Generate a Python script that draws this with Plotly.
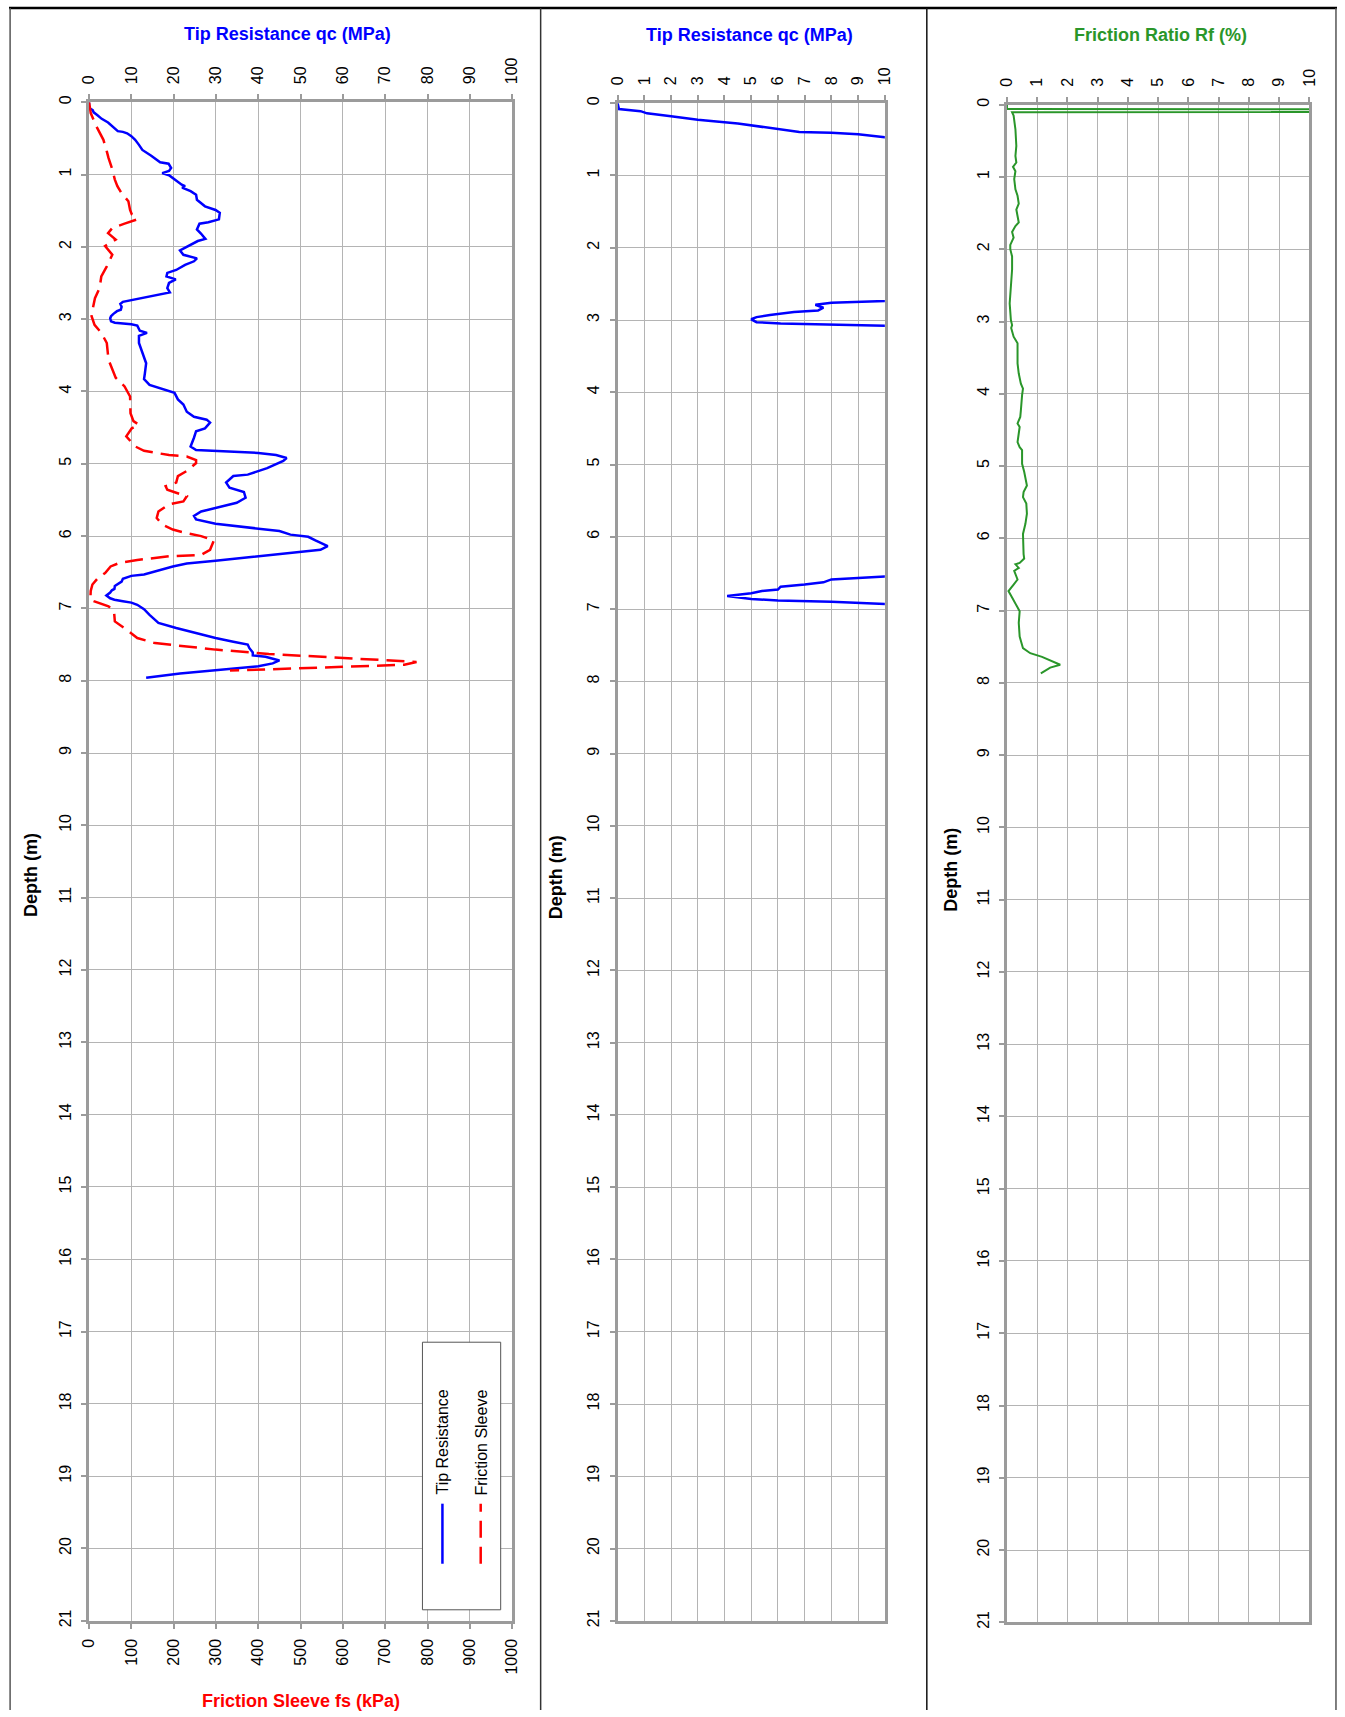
import plotly.graph_objects as go

# ---------------- data ----------------
depth_qc = [0.00, 0.08, 0.11, 0.14, 0.18, 0.23, 0.28, 0.31, 0.35, 0.38, 0.40, 0.41, 0.43, 0.47,
            0.52, 0.59, 0.66, 0.74, 0.79, 0.83, 0.85, 0.91, 0.95, 0.98, 1.01, 1.07, 1.14, 1.16,
            1.18, 1.23, 1.28, 1.35, 1.44, 1.49, 1.53, 1.62, 1.66, 1.68, 1.76, 1.82, 1.89, 1.92,
            1.97, 2.05, 2.11, 2.16, 2.20, 2.25, 2.32, 2.36, 2.41, 2.45, 2.50, 2.57, 2.63, 2.68,
            2.73, 2.76, 2.79, 2.83, 2.87, 2.89, 2.93, 2.96, 2.99, 3.03, 3.05, 3.06, 3.07, 3.09,
            3.16, 3.19, 3.23, 3.33, 3.45, 3.61, 3.75, 3.83, 3.91, 3.95, 4.00, 4.02, 4.11, 4.18,
            4.28, 4.35, 4.39, 4.43, 4.51, 4.55, 4.64, 4.76, 4.81, 4.83, 4.85, 4.88, 4.92, 4.96,
            5.06, 5.15, 5.17, 5.26, 5.33, 5.39, 5.47, 5.54, 5.59, 5.66, 5.72, 5.77, 5.83, 5.89,
            5.93, 5.98, 6.01, 6.06, 6.14, 6.19, 6.22, 6.26, 6.29, 6.34, 6.38, 6.42, 6.49, 6.53,
            6.55, 6.59, 6.63, 6.66, 6.69, 6.73, 6.75, 6.78, 6.82, 6.86, 6.88, 6.90, 6.92, 6.95,
            7.01, 7.09, 7.20, 7.27, 7.34, 7.41, 7.46, 7.50, 7.55, 7.61, 7.65, 7.67, 7.72, 7.76,
            7.80, 7.85, 7.90, 7.96]
qc_mpa = [0.0, 0.05, 0.86, 1.1, 2.0, 3.0, 4.5, 5.1, 5.8, 6.3, 6.8, 8.0, 9.0, 10.0,
          10.9, 11.8, 12.6, 14.7, 16.0, 16.8, 18.8, 19.4, 18.9, 17.3, 18.9, 20.2, 21.9, 22.7,
          22.0, 24.0, 25.3, 25.5, 27.4, 29.9, 30.9, 30.7, 28.2, 26.1, 25.5, 26.5, 27.5, 25.7,
          24.0, 21.5, 22.3, 25.5, 24.8, 22.7, 20.6, 18.5, 18.3, 20.5, 18.9, 18.5, 19.1, 14.7,
          10.0, 8.0, 7.4, 7.7, 7.5, 6.6, 5.7, 5.2, 5.0, 5.2, 6.1, 8.0, 10.0, 11.4,
          12.0, 13.7, 11.8, 11.8, 12.6, 13.5, 13.2, 13.0, 14.3, 16.4, 18.9, 20.2, 21.0, 22.3,
          23.1, 24.8, 27.8, 28.6, 27.4, 25.3, 24.8, 24.0, 25.3, 34.1, 40.0, 44.2, 46.7, 45.9,
          42.1, 37.5, 34.1, 32.4, 33.2, 36.6, 37.0, 34.9, 31.6, 26.5, 24.8, 25.3, 29.9, 39.1,
          45.0, 47.6, 51.8, 53.5, 56.4, 54.7, 50.1, 43.4, 38.3, 29.9, 23.1, 19.8, 15.6, 13.0,
          10.0, 8.0, 7.7, 7.0, 6.1, 6.0, 5.4, 5.0, 4.1, 5.0, 6.0, 8.0, 10.0, 11.4,
          13.0, 14.3, 16.4, 20.6, 25.3, 29.9, 34.1, 37.5, 37.9, 38.7, 38.7, 41.7, 45.0, 43.4,
          40.0, 29.9, 21.5, 13.5]

depth_fs = [0.00, 0.15, 0.33, 0.52, 0.68, 0.77, 0.93, 1.07, 1.16, 1.25, 1.37, 1.49, 1.55, 1.62,
            1.68, 1.74, 1.81, 1.90, 1.99, 2.11, 2.27, 2.41, 2.57, 2.71, 2.85, 2.96, 3.08, 3.19,
            3.33, 3.56, 3.81, 3.93, 4.07, 4.30, 4.41, 4.46, 4.51, 4.62, 4.76, 4.82, 4.88, 4.90,
            4.95, 4.99, 5.10, 5.17, 5.26, 5.31, 5.36, 5.45, 5.52, 5.56, 5.66, 5.75, 5.84, 5.91,
            5.96, 6.00, 6.06, 6.19, 6.26, 6.28, 6.33, 6.37, 6.42, 6.51, 6.58, 6.67, 6.76, 6.88,
            6.90, 6.97, 7.04, 7.18, 7.29, 7.41, 7.48, 7.51, 7.57, 7.63, 7.67, 7.71, 7.74, 7.78,
            7.81, 7.84, 7.86]
fs_kpa = [0, 4, 17, 34, 42, 46, 55, 61, 67, 76, 93, 97, 101, 114,
          84, 55, 45, 63, 38, 55, 42, 29, 25, 14, 9, 6, 13, 29,
          42, 46, 63, 84, 97, 98, 105, 118, 101, 88, 109, 130, 189, 231,
          253, 253, 231, 210, 206, 181, 185, 231, 223, 189, 164, 160, 173, 198,
          231, 265, 295, 286, 265, 189, 114, 72, 51, 38, 21, 8, 4, 3,
          11, 46, 59, 61, 88, 114, 156, 206, 299, 425, 551, 678, 774, 745,
          593, 467, 333]

depth_rf = [0.00, 0.06, 0.07, 0.08, 0.09, 0.106, 0.15, 0.34, 0.57, 0.71, 0.80, 0.86, 0.92, 1.03,
            1.17, 1.26, 1.37, 1.45, 1.54, 1.63, 1.68, 1.76, 1.84, 1.94, 2.00, 2.10, 2.28, 2.51,
            2.75, 2.98, 3.05, 3.09, 3.21, 3.30, 3.58, 3.72, 3.86, 3.93, 4.02, 4.23, 4.32, 4.41,
            4.46, 4.55, 4.67, 4.74, 4.78, 4.97, 5.08, 5.27, 5.36, 5.43, 5.52, 5.66, 5.80, 5.94,
            6.08, 6.22, 6.28, 6.34, 6.36, 6.41, 6.45, 6.57, 6.64, 6.73, 6.82, 6.94, 7.01, 7.17,
            7.36, 7.52, 7.59, 7.64, 7.69, 7.75, 7.79, 7.87]
rf_pct = [0.0, 0.0, 60.0, 60.0, 20.0, 0.17, 0.22, 0.28, 0.31, 0.28, 0.31, 0.20, 0.28, 0.24,
          0.28, 0.35, 0.39, 0.31, 0.35, 0.39, 0.28, 0.17, 0.22, 0.11, 0.11, 0.17, 0.17, 0.13,
          0.09, 0.13, 0.17, 0.14, 0.22, 0.35, 0.35, 0.39, 0.46, 0.53, 0.50, 0.46, 0.44, 0.35,
          0.42, 0.39, 0.35, 0.42, 0.50, 0.50, 0.57, 0.66, 0.55, 0.53, 0.64, 0.66, 0.61, 0.53,
          0.53, 0.55, 0.57, 0.42, 0.28, 0.39, 0.24, 0.35, 0.22, 0.05, 0.17, 0.33, 0.42, 0.39,
          0.42, 0.53, 0.77, 1.16, 1.43, 1.76, 1.43, 1.12]

depth_ticks = list(range(0, 22))
qc_ticks_wide = list(range(0, 101, 10))
fs_ticks = list(range(0, 1001, 100))
small_ticks = list(range(0, 11))

title_qc = "Tip Resistance qc (MPa)"
title_fs = "Friction Sleeve fs (kPa)"
title_rf = "Friction Ratio Rf (%)"
title_depth = "Depth (m)"
legend_names = ["Tip Resistance", "Friction Sleeve"]

# ---------------- styling ----------------
W, H = 1345, 1717
# the photographed page comes back slightly shrunk and offset; compensate so that
# positions (given in reference pixels) land where they appear in the reference
SX, SY, OX, OY = 0.9882, 0.9908, 7.9, 7.9
FONT = "Liberation Sans, Arial, sans-serif"
AXC = "#9b9b9b"
GRIDC = "#b4b4b4"
BLUE = "#0000ff"
RED = "#ff0000"
GREEN = "#2a962a"


def px(x):
    return ((x - OX) / SX) / W


def py(y):
    return 1 - ((y - OY) / SY) / H


fig = go.Figure()
fig.add_trace(go.Scatter(x=qc_mpa, y=depth_qc, xaxis="x", yaxis="y", mode="lines",
                         line=dict(color=BLUE, width=2.5), name=legend_names[0],
                         showlegend=False))
fig.add_trace(go.Scatter(x=fs_kpa, y=depth_fs, xaxis="x2", yaxis="y", mode="lines",
                         line=dict(color=RED, width=2.5, dash="18px,8px"), name=legend_names[1],
                         showlegend=False))
fig.add_trace(go.Scatter(x=qc_mpa, y=depth_qc, xaxis="x3", yaxis="y2", mode="lines",
                         line=dict(color=BLUE, width=2.5), showlegend=False))
fig.add_trace(go.Scatter(x=rf_pct, y=depth_rf, xaxis="x4", yaxis="y3", mode="lines",
                         line=dict(color=GREEN, width=2), showlegend=False))

tickfont = dict(family=FONT, size=16, color="#000")


def xax(domain, rng, vals, anchor, side="top", grid=True, mirror=True, standoff=7):
    return dict(domain=domain, range=rng, tickvals=vals, anchor=anchor, side=side,
                showline=True, linecolor=AXC, linewidth=2.5, mirror=mirror,
                ticks="outside", ticklen=5, tickwidth=2, tickcolor=AXC,
                showgrid=grid, gridcolor=GRIDC, gridwidth=1, zeroline=False,
                tickangle=-90, tickfont=tickfont, ticklabelstandoff=standoff, fixedrange=True)


def yax(domain, anchor):
    return dict(domain=domain, range=[21, 0], tickvals=depth_ticks, anchor=anchor, side="left",
                showline=True, linecolor=AXC, linewidth=2.5, mirror=True,
                ticks="outside", ticklen=5, tickwidth=2, tickcolor=AXC,
                showgrid=True, gridcolor=GRIDC, gridwidth=1, zeroline=False,
                tickangle=-90, tickfont=tickfont, ticklabelstandoff=4, fixedrange=True)


d1x = [px(88), px(511.5)]
d2x = [px(617), px(884.5)]
d3x = [px(1006.7), px(1309.5)]
d1y = [py(1620), py(103)]
d2y = [py(1620), py(104)]
d3y = [py(1621.5), py(105.5)]

x2 = xax(None, [0, 1000], fs_ticks, "y", side="bottom", grid=False, mirror=False, standoff=4)
x2.pop("domain")
x2["overlaying"] = "x"

fig.update_layout(
    width=W, height=H, autosize=False,
    margin=dict(l=0, r=0, t=0, b=0, pad=0),
    paper_bgcolor="white", plot_bgcolor="white",
    font=dict(family=FONT, color="#000"),
    showlegend=False,
    xaxis=xax(d1x, [0, 100], qc_ticks_wide, "y"),
    xaxis2=x2,
    xaxis3=xax(d2x, [0, 10], small_ticks, "y2"),
    xaxis4=xax(d3x, [0, 10], small_ticks, "y3"),
    yaxis=yax(d1y, "x"),
    yaxis2=yax(d2y, "x3"),
    yaxis3=yax(d3y, "x4"),
)

ann = []


def add_text(text, x, y, size, color, bold=True, angle=0):
    t = f"<b>{text}</b>" if bold else text
    ann.append(dict(text=t, x=px(x), y=py(y), xref="paper", yref="paper",
                    xanchor="center", yanchor="middle", showarrow=False, textangle=angle,
                    font=dict(family=FONT, size=size, color=color)))


add_text(title_qc, 287, 35, 18, BLUE)
add_text(title_qc, 749, 36, 18, BLUE)
add_text(title_rf, 1160, 36, 18, GREEN)
add_text(title_fs, 300, 1700, 18, RED)
add_text(title_depth, 30, 875, 18, "#000", angle=-90)
add_text(title_depth, 555.5, 877, 18, "#000", angle=-90)
add_text(title_depth, 950.5, 870, 18, "#000", angle=-90)
add_text(legend_names[0], 441.5, 1441.7, 16, "#000", bold=False, angle=-90)
add_text(legend_names[1], 480.5, 1441.7, 16, "#000", bold=False, angle=-90)

shapes = []
# legend box and samples
shapes.append(dict(type="rect", xref="paper", yref="paper", x0=px(421.7), x1=px(500),
                   y0=py(1609), y1=py(1341.7), line=dict(color="#555", width=1),
                   fillcolor="white", layer="above"))
shapes.append(dict(type="line", xref="paper", yref="paper", x0=px(441.7), x1=px(441.7),
                   y0=py(1563), y1=py(1503), line=dict(color=BLUE, width=2.5), layer="above"))
shapes.append(dict(type="line", xref="paper", yref="paper", x0=px(480), x1=px(480),
                   y0=py(1563), y1=py(1503), line=dict(color=RED, width=2.5, dash="17px,9px"),
                   layer="above"))
# page frame: top rule, outer edges and panel separators
shapes.append(dict(type="line", xref="paper", yref="paper", x0=0, x1=1, y0=py(9), y1=py(9),
                   line=dict(color="#000", width=2.5)))
for xv, col in [(9, "#555"), (540, "#333"), (926.5, "#111"), (1336, "#555")]:
    shapes.append(dict(type="line", xref="paper", yref="paper", x0=px(xv), x1=px(xv),
                       y0=0, y1=py(9), line=dict(color=col, width=1.5)))

fig.update_layout(annotations=ann, shapes=shapes)

fig.write_html("out.html", config={"displayModeBar": False},
               post_script="document.body.style.margin='0px';")
